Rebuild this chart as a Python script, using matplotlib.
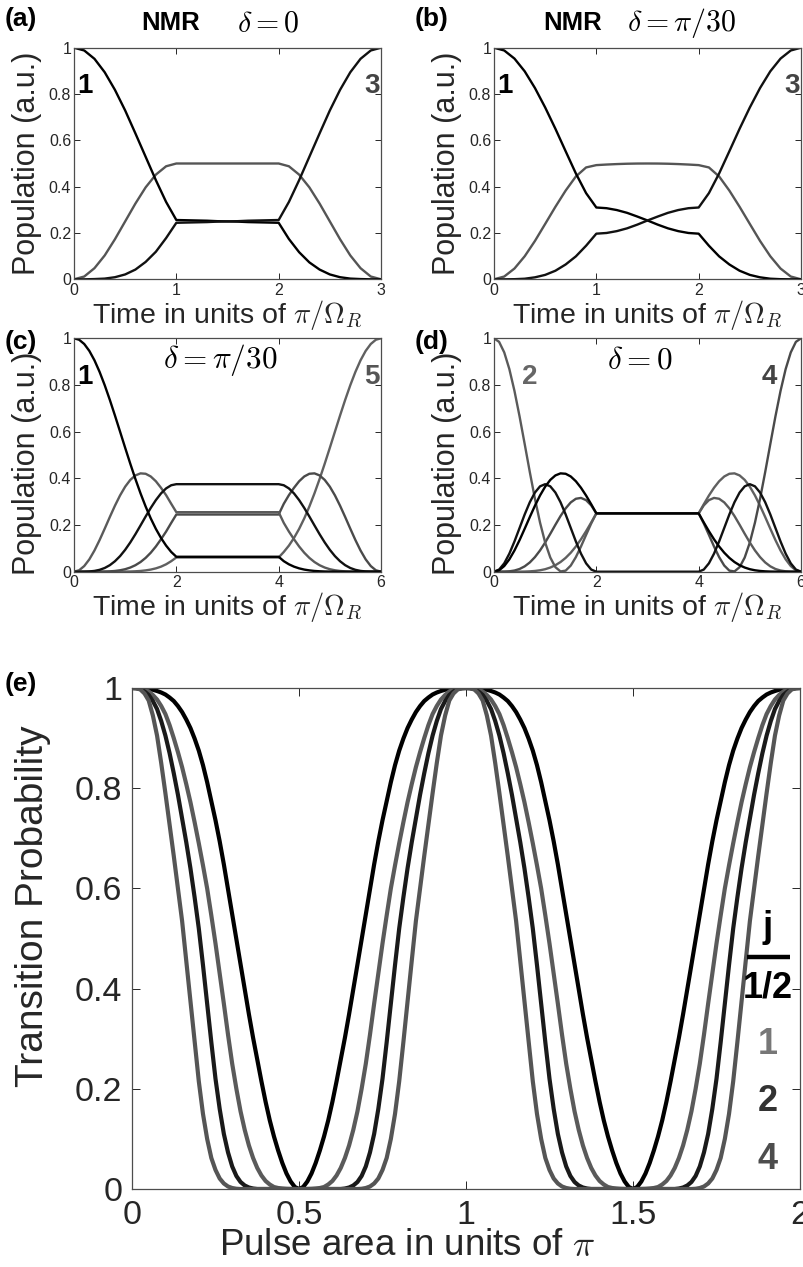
import numpy as np
import matplotlib
matplotlib.use('Agg')
import matplotlib.pyplot as plt

plt.rcParams['font.family'] = ['Liberation Sans', 'DejaVu Sans']
plt.rcParams['mathtext.fontset'] = 'cm'

W, H = 804, 1267
BLACK = '#000000'
GRAY = '#555555'
TXT = '#262626'

# ---- populations, panels (a)/(b): spin-1, three levels ----
t_ab = np.linspace(0, 3, 31)
a_lvl1 = [1.0, .988, .952, .894, .818, .729, .630, .529, .428, .334, .256,
          .255, .254, .253, .251, .250, .249, .247, .246, .245, .244,
          .174, .117, .073, .042, .021, .009, .003, .001, 0.0, 0.0]
a_lvl2 = [0.0, .012, .048, .103, .173, .250, .327, .397, .452, .488, .500,
          .500, .500, .500, .500, .500, .500, .500, .500, .500, .500,
          .488, .452, .397, .327, .250, .173, .103, .048, .012, 0.0]
a_lvl3 = [0.0, 0.0, .001, .003, .009, .021, .042, .075, .119, .178, .244,
          .245, .246, .247, .249, .250, .251, .253, .254, .255, .256,
          .334, .428, .529, .630, .729, .818, .894, .952, .988, 1.0]

b_lvl1 = [1.0, .988, .953, .898, .826, .742, .650, .553, .457, .372, .310,
          .307, .299, .287, .271, .254, .236, .220, .208, .200, .197,
          .145, .099, .064, .037, .019, .0085, .0025, .0005, 0.0, 0.0]
b_lvl2 = [0.0, .012, .0465, .0995, .1655, .239, .313, .383, .444, .483, .493,
          .4955, .4975, .499, .4998, .500, .4998, .499, .4975, .4955, .493,
          .483, .444, .383, .313, .239, .1655, .0995, .0465, .012, 0.0]
b_lvl3 = [0.0, 0.0, .0005, .0025, .0085, .019, .037, .064, .099, .145, .197,
          .200, .208, .220, .236, .254, .271, .287, .299, .307, .310,
          .372, .457, .553, .650, .742, .826, .898, .953, .988, 1.0]

# ---- populations, panels (c)/(d): spin-2, five levels ----
t_cd = np.linspace(0, 6, 61)
c_lvl1 = [1.0, .9939, .9756, .9459, .9057, .8562, .7992, .7363, .6694, .6003, .5308,
          .4627, .3972, .3358, .2793, .2284, .1835, .1447, .1118, .0846, .064,
          .064, .064, .064, .064, .064, .064, .064, .064, .064, .064,
          .064, .064, .064, .064, .064, .064, .064, .064, .064,
          .064, .0451, .0317, .0216, .0143, .0091, .0056, .0032, .0018, .0009, .0005,
          .0002, .0001, 0.0, 0.0, 0.0, 0.0, 0.0, 0.0, 0.0, 0.0]
c_lvl2 = [0.0, .0061, .0242, .0530, .0909, .1355, .1843, .2343, .2827, .3268, .3643,
          .3933, .4125, .4213, .4196, .4080, .3875, .3596, .328, .291, .255,
          .255, .255, .255, .255, .255, .255, .255, .255, .255, .255,
          .255, .255, .255, .255, .255, .255, .255, .255, .255,
          .255, .209, .172, .1389, .1080, .0813, .0592, .0414, .0278, .0178, .0107,
          .0061, .0032, .0015, .0006, .0002, .0001, 0.0, 0.0, 0.0, 0.0]
c_lvl3 = [0.0, 0.0, .0002, .0011, .0034, .0080, .0159, .0279, .0448, .0667, .0938,
          .1254, .1606, .1982, .2364, .2732, .3068, .3353, .3569, .3704, .375,
          .375, .375, .375, .375, .375, .375, .375, .375, .375, .375,
          .375, .375, .375, .375, .375, .375, .375, .375, .375,
          .375, .3704, .3569, .3353, .3068, .2732, .2364, .1982, .1606, .1254, .0938,
          .0667, .0448, .0279, .0159, .0080, .0034, .0011, .0002, 0.0, 0.0]
c_lvl4 = [0.0, 0.0, 0.0, 0.0, .0001, .0002, .0006, .0015, .0032, .0061, .0107,
          .0178, .0278, .0414, .0592, .0813, .1080, .1389, .172, .209, .245,
          .245, .245, .245, .245, .245, .245, .245, .245, .245, .245,
          .245, .245, .245, .245, .245, .245, .245, .245, .245,
          .245, .291, .328, .3596, .3875, .4080, .4196, .4213, .4125, .3933, .3643,
          .3268, .2827, .2343, .1843, .1355, .0909, .0530, .0242, .0061, 0.0]
c_lvl5 = [0.0, 0.0, 0.0, 0.0, 0.0, 0.0, 0.0, 0.0, .0001, .0002, .0005,
          .0009, .0018, .0032, .0056, .0091, .0143, .0216, .0317, .0451, .061,
          .061, .061, .061, .061, .061, .061, .061, .061, .061, .061,
          .061, .061, .061, .061, .061, .061, .061, .061, .061,
          .061, .0846, .1118, .1447, .1835, .2284, .2793, .3358, .3972, .4627, .5308,
          .6003, .6694, .7363, .7992, .8562, .9057, .9459, .9756, .9939, 1.0]

d_lvl1 = [0.0, .0061, .0242, .0530, .0909, .1355, .1843, .2343, .2827, .3268, .3643,
          .3933, .4125, .4213, .4196, .4080, .3875, .3596, .3262, .2890, .25,
          .25, .25, .25, .25, .25, .25, .25, .25, .25, .25,
          .25, .25, .25, .25, .25, .25, .25, .25, .25,
          .25, .2110, .1736, .1389, .1080, .0813, .0592, .0414, .0278, .0178, .0107,
          .0061, .0032, .0015, .0006, .0002, .0001, 0.0, 0.0, 0.0, 0.0]
d_lvl2 = [1.0, .9847, .9396, .8681, .7745, .6650, .5467, .4268, .3125, .2102, .1250,
          .0608, .0194, .0012, .0045, .0263, .0625, .1081, .1579, .2067, .25,
          .25, .25, .25, .25, .25, .25, .25, .25, .25, .25,
          .25, .25, .25, .25, .25, .25, .25, .25, .25,
          .25, .2842, .3066, .3161, .3125, .2969, .2713, .2384, .2011, .1624, .125,
          .0912, .0625, .0397, .0230, .0117, .0050, .0017, .0003, 0.0, 0.0]
d_lvl3 = [0.0, .0092, .0358, .0773, .1296, .1875, .2455, .2977, .3392, .3658, .375,
          .3658, .3392, .2977, .2455, .1875, .1296, .0773, .0358, .0092, 0.0,
          0.0, 0.0, 0.0, 0.0, 0.0, 0.0, 0.0, 0.0, 0.0, 0.0,
          0.0, 0.0, 0.0, 0.0, 0.0, 0.0, 0.0, 0.0, 0.0,
          0.0, .0092, .0358, .0773, .1296, .1875, .2455, .2977, .3392, .3658, .375,
          .3658, .3392, .2977, .2455, .1875, .1296, .0773, .0358, .0092, 0.0]
d_lvl4 = [0.0, 0.0, .0003, .0017, .0050, .0117, .0230, .0397, .0625, .0912, .125,
          .1624, .2011, .2384, .2713, .2969, .3125, .3161, .3066, .2842, .25,
          .25, .25, .25, .25, .25, .25, .25, .25, .25, .25,
          .25, .25, .25, .25, .25, .25, .25, .25, .25,
          .25, .2067, .1579, .1081, .0625, .0263, .0045, .0012, .0194, .0608, .1250,
          .2102, .3125, .4268, .5467, .6650, .7745, .8681, .9396, .9847, 1.0]
d_lvl5 = [0.0, 0.0, 0.0, 0.0, .0001, .0002, .0006, .0015, .0032, .0061, .0107,
          .0178, .0278, .0414, .0592, .0813, .1080, .1389, .1736, .2110, .25,
          .25, .25, .25, .25, .25, .25, .25, .25, .25, .25,
          .25, .25, .25, .25, .25, .25, .25, .25, .25,
          .25, .2890, .3262, .3596, .3875, .4080, .4196, .4213, .4125, .3933, .3643,
          .3268, .2827, .2343, .1843, .1355, .0909, .0530, .0242, .0061, 0.0]

# ---- transition probability vs pulse area, panel (e) ----
area = np.linspace(0, 2, 161)
p_j05 = [1.0, 1.0, 1.0, .9995, .998, .9965, .994, .991, .987, .981, .974, .964, .952, .937, .920, .899, .875, .846, .812, .774,
         .736, .694, .648, .598, .548, .498, .448, .398, .349, .302, .258, .215, .174, .137, .105, .077, .052, .031, .015, .004, 0.0,
         .004, .015, .031, .052, .077, .105, .137, .174, .215, .258, .302, .349, .398, .448, .498, .548, .598, .648, .694, .736,
         .774, .812, .846, .875, .899, .920, .937, .952, .964, .974, .981, .987, .991, .994, .9965, .998, .9995, 1.0, 1.0, 1.0,
         1.0, 1.0, .9995, .998, .9965, .994, .991, .987, .981, .974, .964, .952, .937, .920, .899, .875, .846, .812, .774, .736,
         .694, .648, .598, .548, .498, .448, .398, .349, .302, .258, .215, .174, .137, .105, .077, .052, .031, .015, .004, 0.0,
         .004, .015, .031, .052, .077, .105, .137, .174, .215, .258, .302, .349, .398, .448, .498, .548, .598, .648, .694, .736,
         .774, .812, .846, .875, .899, .920, .937, .952, .964, .974, .981, .987, .991, .994, .9965, .998, .9995, 1.0, 1.0, 1.0]
p_j1 = [1.0, 1.0, .999, .997, .993, .986, .977, .964, .948, .926, .900, .872, .842, .808, .772, .732, .690, .646, .600, .546,
        .490, .430, .370, .308, .250, .200, .155, .118, .087, .062, .042, .027, .016, .009, .004, .002, .001, .0003, 0.0, 0.0, 0.0,
        0.0, 0.0, .0003, .001, .002, .004, .009, .016, .027, .042, .062, .087, .118, .155, .200, .250, .308, .370, .430, .490,
        .546, .600, .646, .690, .732, .772, .808, .842, .872, .900, .926, .948, .964, .977, .986, .993, .997, .999, 1.0, 1.0,
        1.0, .999, .997, .993, .986, .977, .964, .948, .926, .900, .872, .842, .808, .772, .732, .690, .646, .600, .546, .490,
        .430, .370, .308, .250, .200, .155, .118, .087, .062, .042, .027, .016, .009, .004, .002, .001, .0003, 0.0, 0.0, 0.0,
        0.0, 0.0, .0003, .001, .002, .004, .009, .016, .027, .042, .062, .087, .118, .155, .200, .250, .308, .370, .430, .490,
        .546, .600, .646, .690, .732, .772, .808, .842, .872, .900, .926, .948, .964, .977, .986, .993, .997, .999, 1.0, 1.0]
p_j2 = [1.0, .9995, .998, .993, .986, .974, .958, .934, .905, .870, .830, .787, .740, .692, .640, .582, .520, .447, .370, .293,
        .220, .160, .110, .073, .045, .026, .014, .007, .003, .001, 0.0, 0.0, 0.0, 0.0, 0.0, 0.0, 0.0, 0.0, 0.0, 0.0, 0.0,
        0.0, 0.0, 0.0, 0.0, 0.0, 0.0, 0.0, 0.0, 0.0, 0.0, .001, .003, .007, .014, .026, .045, .073, .110, .160, .220,
        .293, .370, .447, .520, .582, .640, .692, .740, .787, .830, .870, .905, .934, .958, .974, .986, .993, .998, .9995, 1.0,
        .9995, .998, .993, .986, .974, .958, .934, .905, .870, .830, .787, .740, .692, .640, .582, .520, .447, .370, .293, .220,
        .160, .110, .073, .045, .026, .014, .007, .003, .001, 0.0, 0.0, 0.0, 0.0, 0.0, 0.0, 0.0, 0.0, 0.0, 0.0, 0.0,
        0.0, 0.0, 0.0, 0.0, 0.0, 0.0, 0.0, 0.0, 0.0, 0.0, .001, .003, .007, .014, .026, .045, .073, .110, .160, .220,
        .293, .370, .447, .520, .582, .640, .692, .740, .787, .830, .870, .905, .934, .958, .974, .986, .993, .998, .9995, 1.0]
p_j4 = [1.0, .9995, .997, .989, .975, .945, .905, .850, .790, .728, .665, .600, .535, .455, .375, .293, .215, .150, .100, .062,
        .038, .021, .011, .005, .002, .0005, 0.0, 0.0, 0.0, 0.0, 0.0, 0.0, 0.0, 0.0, 0.0, 0.0, 0.0, 0.0, 0.0, 0.0, 0.0,
        0.0, 0.0, 0.0, 0.0, 0.0, 0.0, 0.0, 0.0, 0.0, 0.0, 0.0, 0.0, 0.0, 0.0, .0005, .002, .005, .011, .021, .038,
        .062, .100, .150, .215, .293, .375, .455, .535, .600, .665, .728, .790, .850, .905, .945, .975, .989, .997, .9995, 1.0,
        .9995, .997, .989, .975, .945, .905, .850, .790, .728, .665, .600, .535, .455, .375, .293, .215, .150, .100, .062, .038,
        .021, .011, .005, .002, .0005, 0.0, 0.0, 0.0, 0.0, 0.0, 0.0, 0.0, 0.0, 0.0, 0.0, 0.0, 0.0, 0.0, 0.0, 0.0,
        0.0, 0.0, 0.0, 0.0, 0.0, 0.0, 0.0, 0.0, 0.0, 0.0, 0.0, 0.0, 0.0, 0.0, .0005, .002, .005, .011, .021, .038,
        .062, .100, .150, .215, .293, .375, .455, .535, .600, .665, .728, .790, .850, .905, .945, .975, .989, .997, .9995, 1.0]
j_labels = ['1/2', '1', '2', '4']
j_colors = [BLACK, '#5a5a5a', '#1a1a1a', '#555555']
j_text_colors = [BLACK, '#777777', '#333333', '#4d4d4d']


def box(x0, y0, x1, y1):
    return [x0 / W, 1 - y1 / H, (x1 - x0) / W, (y1 - y0) / H]


def style(ax, ticksize, length, xpad, ypad):
    ax.tick_params(direction='in', top=True, right=True, length=length,
                   width=0.7, colors=TXT, labelsize=ticksize)
    ax.tick_params(axis='x', pad=xpad)
    ax.tick_params(axis='y', pad=ypad)
    for s in ax.spines.values():
        s.set_color('#4d4d4d')
        s.set_linewidth(0.9)


def small_panel(rect, t, curves, xmax, xticks, ylab_y):
    ax = fig.add_axes(box(*rect))
    for y, c in curves:
        ax.plot(t, y, color=c, lw=1.7, solid_capstyle='round')
    ax.set_xlim(0, xmax)
    ax.set_ylim(0, 1)
    ax.set_xticks(xticks)
    ax.set_xticklabels([str(v) for v in xticks])
    ax.set_yticks([0, 0.2, 0.4, 0.6, 0.8, 1])
    ax.set_yticklabels(['0', '0.2', '0.4', '0.6', '0.8', '1'])
    style(ax, 11.5, 4, 2.5, 2)
    ax.set_ylabel('Population (a.u.)', fontsize=22, color=TXT, va='center')
    ax.yaxis.set_label_coords(-0.153, ylab_y)
    ax.set_xlabel(r'Time in units of $\pi/\Omega_R$', fontsize=20.5, color=TXT, va='center')
    ax.xaxis.set_label_coords(0.5, -0.152)
    return ax


fig = plt.figure(figsize=(W / 100, H / 100), dpi=100)

ax_a = small_panel((74, 47.7, 381, 279.3), t_ab,
                   [(a_lvl2, GRAY), (a_lvl1, BLACK), (a_lvl3, '#111111')], 3, [0, 1, 2, 3], 0.5)
ax_b = small_panel((494, 47.7, 801, 279.3), t_ab,
                   [(b_lvl2, GRAY), (b_lvl1, BLACK), (b_lvl3, '#111111')], 3, [0, 1, 2, 3], 0.5)
ax_c = small_panel((74, 338.3, 381, 571.7), t_cd,
                   [(c_lvl5, '#606060'), (c_lvl4, '#4a4a4a'), (c_lvl2, '#5a5a5a'),
                    (c_lvl3, '#111111'), (c_lvl1, BLACK)], 6, [0, 2, 4, 6], 0.465)
ax_d = small_panel((494, 338.3, 801, 571.7), t_cd,
                   [(d_lvl5, '#606060'), (d_lvl4, '#4a4a4a'), (d_lvl2, '#5a5a5a'),
                    (d_lvl3, '#111111'), (d_lvl1, BLACK)], 6, [0, 2, 4, 6], 0.465)

# level numbers inside the small panels
for ax, left, right, lc, rc in [(ax_a, '1', '3', BLACK, '#444444'),
                                (ax_b, '1', '3', BLACK, '#444444'),
                                (ax_c, '1', '5', BLACK, '#555555')]:
    ax.text(0.01, 0.835, left, transform=ax.transAxes, fontsize=20, fontweight='bold',
            color=lc, ha='left', va='center')
    ax.text(0.995, 0.835, right, transform=ax.transAxes, fontsize=20, fontweight='bold',
            color=rc, ha='right', va='center')
ax_d.text(0.092, 0.835, '2', transform=ax_d.transAxes, fontsize=20, fontweight='bold',
          color='#666666', ha='left', va='center')
ax_d.text(0.922, 0.835, '4', transform=ax_d.transAxes, fontsize=20, fontweight='bold',
          color='#444444', ha='right', va='center')

ax_c.text(0.476, 0.905, r'$\delta = \pi/30$', transform=ax_c.transAxes, fontsize=22.5,
          ha='center', va='center')
ax_d.text(0.476, 0.905, r'$\delta = 0$', transform=ax_d.transAxes, fontsize=22.5,
          ha='center', va='center')

# panel letters and titles
for lbl, x, y in [('(a)', 5, 19), ('(b)', 415, 19), ('(c)', 5, 342), ('(d)', 415, 342), ('(e)', 5, 684)]:
    fig.text(x / W, 1 - y / H, lbl, fontsize=19, fontweight='bold', ha='left', va='center')
fig.text(171 / W, 1 - 23 / H, 'NMR', fontsize=18.5, fontweight='bold', ha='center', va='center')
fig.text(237 / W, 1 - 23 / H, r'$\delta = 0$', fontsize=21.5, ha='left', va='center')
fig.text(573 / W, 1 - 23 / H, 'NMR', fontsize=18.5, fontweight='bold', ha='center', va='center')
fig.text(627 / W, 1 - 23 / H, r'$\delta = \pi/30$', fontsize=21.5, ha='left', va='center')

# ---- panel (e) ----
ax_e = fig.add_axes(box(132, 688, 800, 1189))
for y, c in [(p_j05, j_colors[0]), (p_j1, j_colors[1]), (p_j2, j_colors[2]), (p_j4, j_colors[3])]:
    ax_e.plot(area, y, color=c, lw=3.0, solid_capstyle='round')
ax_e.set_xlim(0, 2)
ax_e.set_ylim(0, 1)
ax_e.set_xticks([0, 0.5, 1, 1.5, 2])
ax_e.set_xticklabels(['0', '0.5', '1', '1.5', '2'])
ax_e.set_yticks([0, 0.2, 0.4, 0.6, 0.8, 1])
ax_e.set_yticklabels(['0', '0.2', '0.4', '0.6', '0.8', '1'])
style(ax_e, 24.5, 6, 8, 7)
ax_e.set_xlabel(r'Pulse area in units of $\pi$', fontsize=26.5, color=TXT, va='center')
ax_e.xaxis.set_label_coords((407 - 132) / 668, -0.113)
ax_e.set_ylabel('Transition Probability', fontsize=28, color=TXT, va='center')
ax_e.yaxis.set_label_coords((33 - 132) / 668, 0.565)

# spin legend on the right of (e)
ax_e.text(1.904, 0.521, 'j', fontsize=26, fontweight='bold', ha='center', va='center')
ax_e.plot([1.841, 1.970], [0.463, 0.463], color=BLACK, lw=3.2, solid_capstyle='butt')
for lbl, c, y in zip(j_labels, j_text_colors, [0.401, 0.289, 0.174, 0.058]):
    ax_e.text(1.904, y, lbl, fontsize=26, fontweight='bold', color=c, ha='center', va='center')

fig.savefig('out.png', dpi=100)
